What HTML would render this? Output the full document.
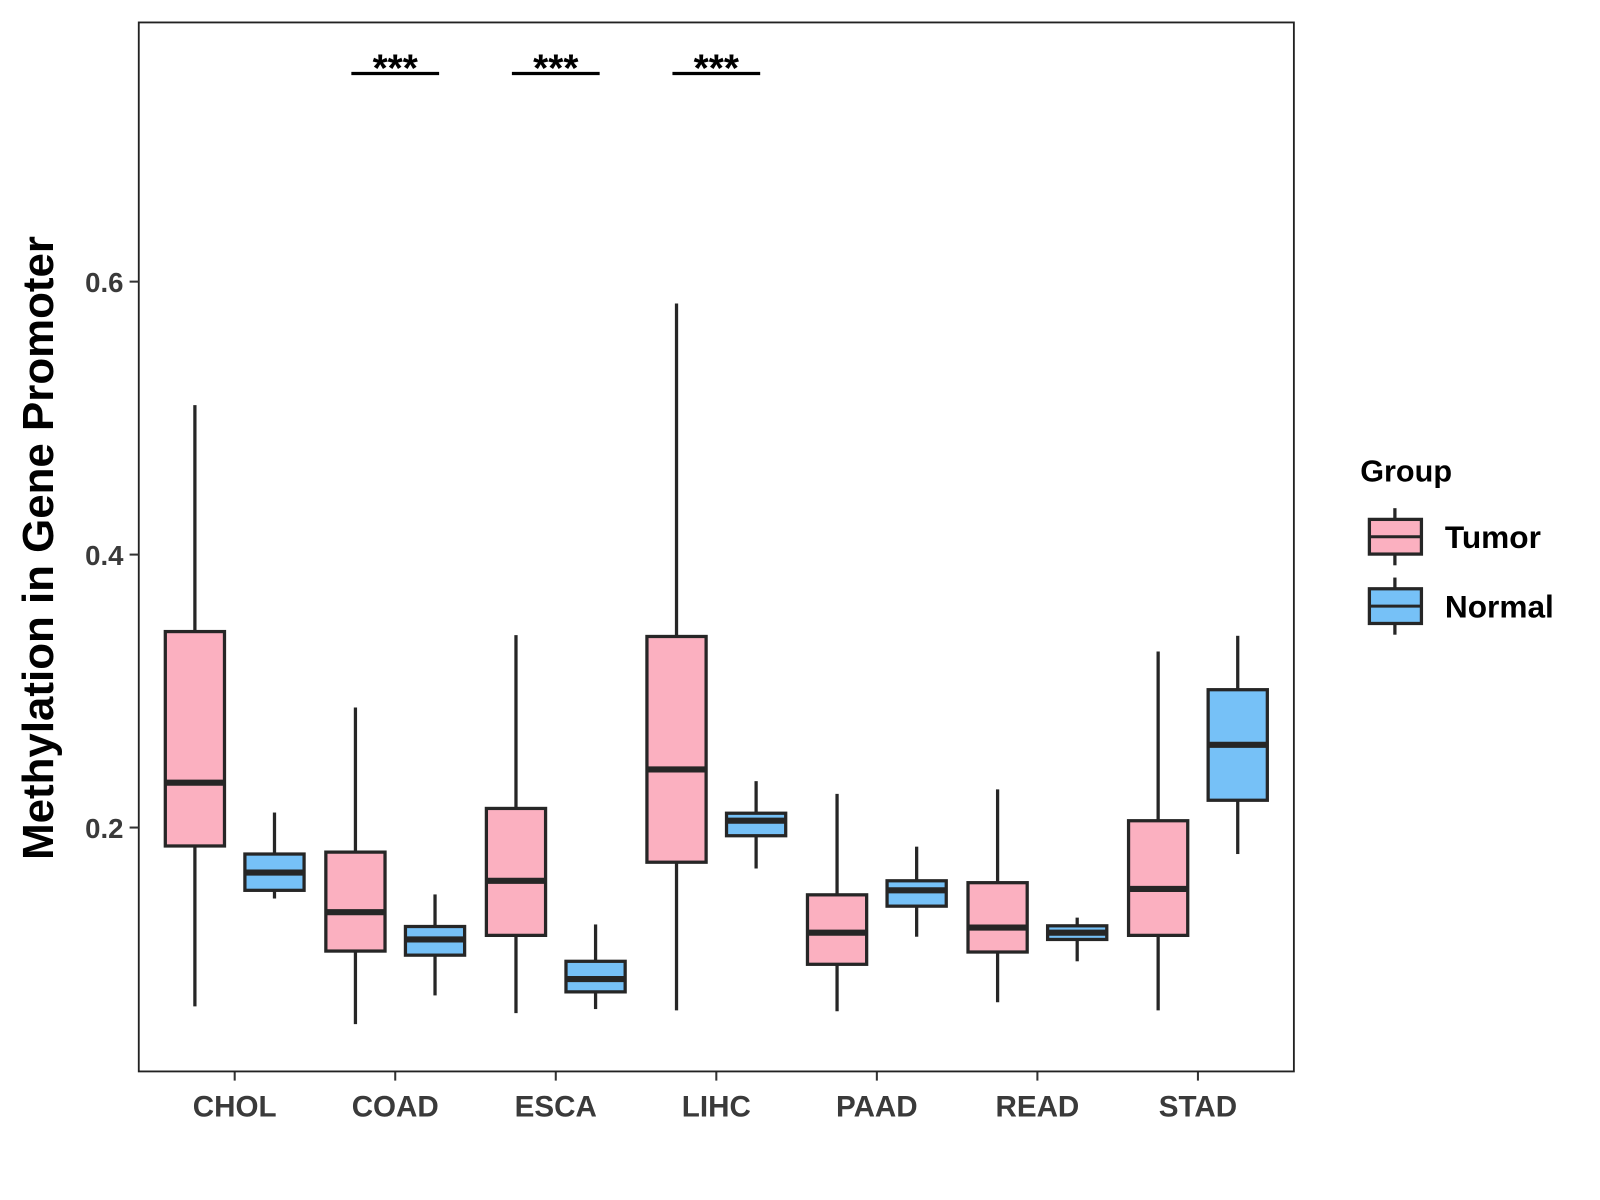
<!DOCTYPE html>
<html><head><meta charset="utf-8"><style>
html,body{margin:0;padding:0;background:#fff;}
svg{display:block;font-family:"Liberation Sans",Arial,sans-serif;}
</style></head><body>
<svg id="chart" width="1600" height="1200" viewBox="0 0 1568 1176" xmlns="http://www.w3.org/2000/svg">
<rect x="0" y="0" width="1568" height="1176" fill="#fff"/>
</svg>
<script>
const categories = ["CHOL","COAD","ESCA","LIHC","PAAD","READ","STAD"];
const yTicks = [0.2, 0.4, 0.6];
const yTickLabels = ["0.2","0.4","0.6"];
// [low whisker, Q1, median, Q3, high whisker]
const tumorStats = [
  [0.069,0.1865,0.2329,0.3436,0.5095],
  [0.056,0.1095,0.138,0.182,0.288],
  [0.064,0.121,0.161,0.214,0.341],
  [0.066,0.1746,0.2426,0.340,0.584],
  [0.0654,0.0998,0.123,0.1507,0.2247],
  [0.072,0.1088,0.1267,0.1596,0.228],
  [0.066,0.121,0.155,0.205,0.329]
];
const normalStats = [
  [0.148,0.154,0.167,0.1806,0.211],
  [0.077,0.1065,0.118,0.1275,0.151],
  [0.067,0.0796,0.089,0.102,0.129],
  [0.170,0.194,0.205,0.2105,0.234],
  [0.12,0.1424,0.154,0.161,0.186],
  [0.102,0.118,0.123,0.128,0.134],
  [0.1806,0.22,0.2606,0.301,0.3405]
];
const sigCategories = ["COAD","ESCA","LIHC"];
const sigLabels = ["***","***","***"];

const svg = document.getElementById('chart');
const NS = "http://www.w3.org/2000/svg";
const P = {l:136, r:1268, t:22, b:1050};
function y(v){ return 811 - (v - 0.2) * 1337.5; }
function x(i){ return 230 + i * 157.33; }
function mk(tag, attrs, parent){
  const e = document.createElementNS(NS, tag);
  for (const k in attrs) e.setAttribute(k, attrs[k]);
  (parent || svg).appendChild(e);
  return e;
}
const stroke = "#262626";
function drawBox(cx, s, fill, g){
  const w = 58;
  mk('line',{x1:cx,x2:cx,y1:y(s[3]),y2:y(s[4]),stroke:stroke,'stroke-width':3.2},g);
  mk('line',{x1:cx,x2:cx,y1:y(s[1]),y2:y(s[0]),stroke:stroke,'stroke-width':3.2},g);
  mk('rect',{x:cx-w/2,y:y(s[3]),width:w,height:y(s[1])-y(s[3]),fill:fill,stroke:stroke,'stroke-width':3.2},g);
  mk('line',{x1:cx-w/2,x2:cx+w/2,y1:y(s[2]),y2:y(s[2]),stroke:stroke,'stroke-width':6},g);
}
categories.forEach((c,i)=>{
  const g = mk('g',{});
  
  
  const gt = mk('g',{},g);
  
  
  drawBox(x(i)-39, tumorStats[i], "#FBB0C0", gt);
  const gn = mk('g',{},g);
  
  
  drawBox(x(i)+39, normalStats[i], "#76C1F7", gn);
  mk('line',{x1:x(i),x2:x(i),y1:P.b,y2:P.b+9,stroke:"#333",'stroke-width':2});
  const t = mk('text',{x:x(i),y:1094,'text-anchor':'middle','font-size':29,'font-weight':'bold',fill:'#3a3a3a'});
  t.textContent = c;
  
  
});
const border = mk('rect',{x:P.l,y:P.t,width:P.r-P.l,height:P.b-P.t,fill:'none',stroke:'#222','stroke-width':1.8});


yTicks.forEach((v,k)=>{
  mk('line',{x1:P.l-9,x2:P.l,y1:y(v),y2:y(v),stroke:"#333",'stroke-width':2});
  const t = mk('text',{x:P.l-15,y:y(v)+10,'text-anchor':'end','font-size':27,'font-weight':'bold',fill:'#3a3a3a'});
  t.textContent = yTickLabels[k];
  
  
});
sigCategories.forEach((c,k)=>{
  const i = categories.indexOf(c);
  mk('line',{x1:x(i)-43,x2:x(i)+43,y1:72,y2:72,stroke:'#000','stroke-width':3.2});
  const t = mk('text',{x:x(i),y:80,'text-anchor':'middle','font-size':38,'font-weight':'bold',fill:'#000'});
  t.textContent = sigLabels[k];
  
  
});
const yt = mk('text',{x:0,y:0,transform:'translate(52,537) rotate(-90)','text-anchor':'middle','font-size':43,'font-weight':'bold',fill:'#000'});
yt.textContent = "Methylation in Gene Promoter";


const lg = mk('g',{});


const lt = mk('text',{x:1333,y:472,'font-size':30,'font-weight':'bold',fill:'#000'},lg);
lt.textContent = "Group";


[["Tumor","#FBB0C0",526],["Normal","#76C1F7",594]].forEach(([lab,fill,cy])=>{
  const e = mk('g',{},lg);
  
  
  mk('line',{x1:1367,x2:1367,y1:cy-28,y2:cy+28,stroke:stroke,'stroke-width':3.2},e);
  mk('rect',{x:1342,y:cy-17,width:51,height:34,fill:fill,stroke:stroke,'stroke-width':3.2},e);
  mk('line',{x1:1342,x2:1393,y1:cy,y2:cy,stroke:stroke,'stroke-width':3},e);
  const t = mk('text',{x:1416,y:cy+11,'font-size':31,'font-weight':'bold',fill:'#000'},e);
  t.textContent = lab;
});
</script>
</body></html>
